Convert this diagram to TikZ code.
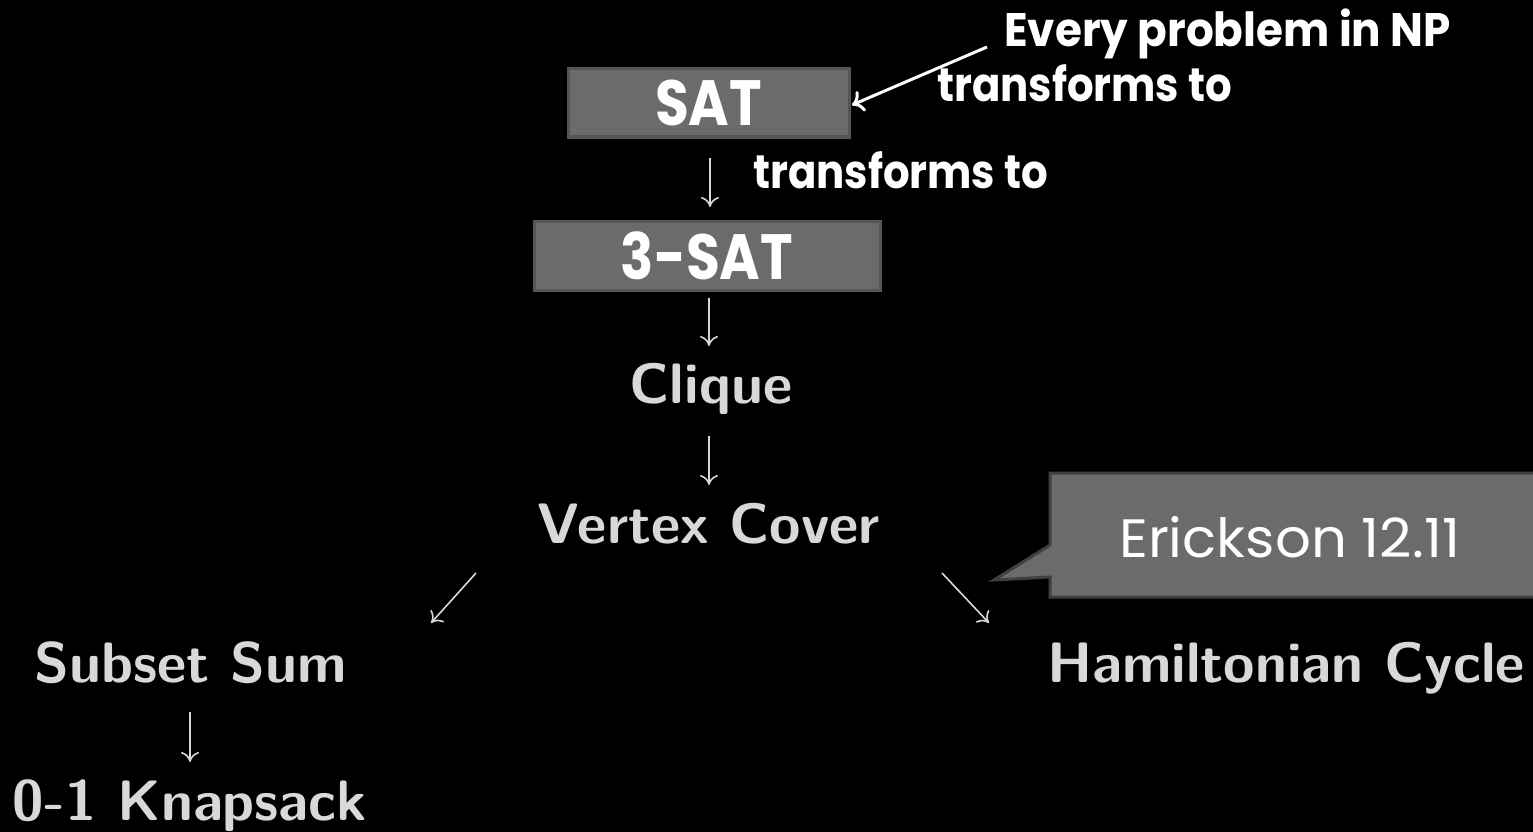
\documentclass[tikz,border=0pt]{standalone}
\usepackage{fontspec}
\newfontfamily\gothic{Poppins}
\usetikzlibrary{arrows.meta}
\definecolor{boxfill}{HTML}{6B6B6B}
\definecolor{boxline}{HTML}{555555}
\definecolor{callline}{HTML}{404040}
\definecolor{labelgray}{HTML}{D8D8D8}
% narrowed geometric sans for the slide annotations
\newcommand{\narrow}[2]{\scalebox{#1}[1]{#2}}
\begin{document}
\begin{tikzpicture}[x=1pt,y=-1pt,
  probbox/.style={fill=boxfill,draw=boxline,line width=3pt,inner sep=0pt,
    text=white,font=\gothic\bfseries\fontsize{64}{64}\selectfont},
  gothtext/.style={text=white,font=\gothic\bfseries\fontsize{47}{47}\selectfont,inner sep=0pt,anchor=base west},
  problabel/.style={text=labelgray,font=\sffamily\bfseries\fontsize{57}{57}\selectfont,inner sep=0pt,anchor=base},
  redarrow/.style={draw=labelgray,line width=1.6pt,-{To[length=10pt,width=18pt]}},
]
% page
\fill[black] (0,0) rectangle (1533,832);
\useasboundingbox (0,0) rectangle (1533,832);

% boxed problems
\node[probbox,minimum width=281pt,minimum height=68pt] (sat) at (708.5,103) {\narrow{0.86}{SAT}};
\node[probbox,minimum width=346pt,minimum height=69pt] (tsat) at (707,255.5) {\narrow{0.86}{3-SAT}};

% annotations
\node[gothtext] (every) at (1004,47) {\narrow{0.93}{Every problem in NP}};
\node[gothtext] (tf1) at (937,102) {\narrow{0.89}{transforms to}};
\node[gothtext] (tf2) at (753,188) {\narrow{0.89}{transforms to}};
\coordinate (evstart) at (987,47);
\coordinate (evend) at (852,105);
\draw[white,line width=3pt,-{To[length=11pt,width=22pt]}] (evstart) -- (evend);

% plain problems
\node[problabel] (clique) at (711,403) {Clique};
\node[problabel] (vc) at (709,543) {Vertex Cover};
\node[problabel] (ss) at (191,682) {Subset Sum};
\node[problabel] (ham) at (1286,682) {Hamiltonian Cycle};
\node[problabel] (knap) at (190,820) {0-1 Knapsack};

% reductions
\coordinate (a1s) at (710,158); \coordinate (a1e) at (710,207);
\coordinate (a2s) at (709,298); \coordinate (a2e) at (709,346);
\coordinate (a3s) at (709,436); \coordinate (a3e) at (709,485);
\coordinate (a4s) at (476,573); \coordinate (a4e) at (431,623);
\coordinate (a5s) at (942,573); \coordinate (a5e) at (989,623);
\coordinate (a6s) at (190,712); \coordinate (a6e) at (190,762);
\draw[redarrow] (a1s) -- (a1e);
\draw[redarrow] (a2s) -- (a2e);
\draw[redarrow] (a3s) -- (a3e);
\draw[redarrow] (a4s) -- (a4e);
\draw[redarrow] (a5s) -- (a5e);
\draw[redarrow] (a6s) -- (a6e);

% callout
\coordinate (tip) at (994,580);
\draw[fill=boxfill,draw=callline,line width=3pt,line join=miter]
  (1050,473) -- (1540,473) -- (1540,597) -- (1050,597) -- (1050,577) -- (tip) -- (1050,545) -- cycle;
\node[text=white,font=\gothic\fontsize{54}{54}\selectfont,inner sep=0pt,anchor=base west] (erick) at (1119,557) {\narrow{1.04}{Erickson 12.11}};
\end{tikzpicture}
\end{document}
